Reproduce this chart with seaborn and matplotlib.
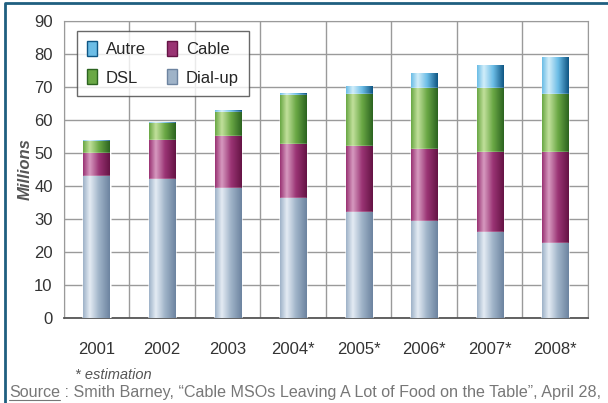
import numpy as np
import pandas as pd
import matplotlib
matplotlib.use("Agg")
import matplotlib.pyplot as plt
from matplotlib.patches import Patch
from matplotlib.colors import LinearSegmentedColormap
import seaborn as sns

# values (millions)
years = ['2001', '2002', '2003', '2004*', '2005*', '2006*', '2007*', '2008*']
dialup = [43.0, 42.0, 39.5, 36.3, 32.0, 29.3, 25.9, 22.8]
cable = [7.0, 12.0, 15.5, 16.5, 20.0, 22.0, 24.3, 27.5]
dsl = [3.5, 5.0, 7.5, 14.8, 15.8, 18.3, 19.6, 17.5]
autre = [0.5, 0.5, 0.6, 0.5, 2.5, 4.7, 7.0, 11.3]

series = ['Dial-up', 'Cable', 'DSL', 'Autre']
# light, mid, dark shade per series
colors = {'Dial-up': ('#e4ecf4', '#9fb3c8', '#6d84a0'),
          'Cable': ('#d79ac0', '#9a3474', '#651445'),
          'DSL': ('#c2e09c', '#6aa845', '#2c6420'),
          'Autre': ('#d2eefa', '#6cbde6', '#0f5684')}

df = pd.DataFrame({'year': years, 'Dial-up': dialup, 'Cable': cable,
                   'DSL': dsl, 'Autre': autre})
cum = df[series].cumsum(axis=1)
cum['year'] = df['year']

sns.set_style('white')
plt.rcParams['font.family'] = ['Liberation Sans', 'DejaVu Sans']

fig = plt.figure(figsize=(6.08, 4.03), dpi=100)
ax = fig.add_axes([0.105, 0.211, 0.862, 0.737])

# draw tallest (cumulative) first so lower segments sit on top
for s in reversed(series):
    sns.barplot(data=cum, x='year', y=s, color=colors[s][1], width=0.4,
                ax=ax, zorder=3, saturation=1)

# gradient shading on each bar segment
n = len(years)
grad = np.linspace(0, 1, 64).reshape(1, -1)
for i, s in enumerate(reversed(series)):
    cmap = LinearSegmentedColormap.from_list(
        s, [(0, colors[s][1]), (0.25, colors[s][0]), (0.6, colors[s][1]), (1, colors[s][2])])
    for p in ax.patches[i * n:(i + 1) * n]:
        x0, y0 = p.get_x(), p.get_y()
        w, h = p.get_width(), p.get_height()
        im = ax.imshow(grad, extent=[x0, x0 + w, y0, y0 + h], aspect='auto',
                       cmap=cmap, zorder=3 + i * 0.1 + 0.05, origin='lower')
        im.set_clip_path(p)
        p.set_zorder(3 + i * 0.1)

ax.set_xlim(-0.5, n - 0.5)
ax.set_ylim(0, 90)
ax.set_yticks(range(0, 91, 10))
ax.set_xticks(np.arange(-0.5, n, 1), minor=True)
ax.grid(True, which='minor', axis='x', color='#9a9a9a', lw=1.0, zorder=0)
ax.grid(True, which='major', axis='y', color='#9a9a9a', lw=1.0, zorder=0)
ax.set_axisbelow(True)
for side in ['top', 'right', 'left']:
    ax.spines[side].set_color('#9a9a9a')
ax.spines['bottom'].set_color('#555555')
ax.spines['bottom'].set_linewidth(1.3)
ax.tick_params(axis='both', which='both', length=0, labelsize=12,
               labelcolor='#333333')
ax.tick_params(axis='x', pad=17)
ax.tick_params(axis='y', pad=8)
ax.set_xlabel('')
ax.set_ylabel('Millions', fontsize=12, fontstyle='italic', fontweight='bold',
              color='#555555', labelpad=1)

labels = ['Autre', 'DSL', 'Cable', 'Dial-up']
handles = [Patch(facecolor=colors[s][1], edgecolor=colors[s][2]) for s in labels]
leg = ax.legend(handles, labels, ncol=2, loc='upper left',
                bbox_to_anchor=(0.01, 0.995), fontsize=12, frameon=True,
                fancybox=False, edgecolor='#444444', handlelength=0.6,
                handleheight=1.0, columnspacing=1.3, labelspacing=0.75,
                borderpad=0.6, handletextpad=0.5)
leg.get_frame().set_linewidth(1.0)
leg.set_zorder(10)

fig.text(0.123, 0.06, '* estimation', fontsize=10.5, fontstyle='italic',
         color='#555555')
t_src = fig.text(0.015, 0.014, 'Source', fontsize=11.6, color='#777777')
fig.canvas.draw()
bb = t_src.get_window_extent().transformed(fig.transFigure.inverted())
fig.text(bb.x1, 0.014,
         ' : Smith Barney, \u201cCable MSOs Leaving A Lot of Food on the Table\u201d, April 28,',
         fontsize=11.6, color='#777777')
fig.add_artist(plt.Line2D([bb.x0, bb.x1], [bb.y0 + 0.002, bb.y0 + 0.002],
                          color='#777777', lw=0.8, transform=fig.transFigure))

# dark blue rule along the top and left edges
fig.add_artist(plt.Line2D([0.009, 0.009, 1.0], [0.0, 0.993, 0.993],
                          color='#1f5f80', lw=2.0, transform=fig.transFigure))

fig.savefig('out.png', dpi=100)
